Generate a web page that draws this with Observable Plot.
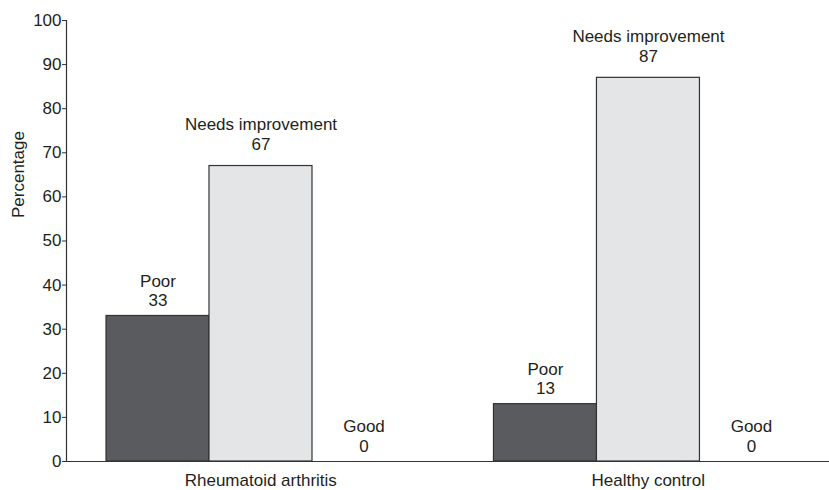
<!DOCTYPE html>
<html>
<head>
<meta charset="utf-8">
<script src="https://cdn.jsdelivr.net/npm/d3@7"></script>
<script src="https://cdn.jsdelivr.net/npm/@observablehq/plot@0.6"></script>
<style>
  html, body { margin: 0; padding: 0; background: #fff; }
  #chart { width: 829px; height: 490px; }
</style>
</head>
<body>
<div id="chart"></div>
<script>
const groups = ["Rheumatoid arthritis", "Healthy control"];
const ratings = ["Poor", "Needs improvement", "Good"];
const rheumatoidValues = [33, 67, 0];
const healthyValues = [13, 87, 0];
const yTicks = [0, 10, 20, 30, 40, 50, 60, 70, 80, 90, 100];
const yLabel = "Percentage";

const seriesByGroup = [rheumatoidValues, healthyValues];
const rows = groups.flatMap((g, gi) =>
  ratings.map((r, ri) => ({group: g, rating: r, value: seriesByGroup[gi][ri]}))
);

const font = "'Liberation Sans', Arial, Helvetica, sans-serif";
const ink = "#231f20";
const width = 829;
const marginLeft = 66;
const fxRange = [105, 803];
const leftReach = marginLeft - fxRange[0];   // extend axis lines out to the plot edge
const rightReach = fxRange[1] - width;

const chart = Plot.plot({
  width,
  height: 490,
  marginTop: 20,
  marginBottom: 29,
  marginLeft,
  marginRight: 0,
  style: {fontFamily: font, fontSize: "17px", color: ink, background: "white"},
  fx: {domain: groups, range: fxRange, paddingInner: 0.1985, paddingOuter: 0, round: false, axis: null},
  x: {domain: ratings, padding: 0, axis: null},
  y: {domain: [0, 100], axis: null},
  color: {domain: ratings, range: ["#5a5b5e", "#e4e5e6", "#ffffff"]},
  marks: [
    Plot.barY(rows, {fx: "group", x: "rating", y: "value", fill: "rating", stroke: "#333333", strokeWidth: 1.2}),
    Plot.text(rows.filter(d => d.rating !== "Needs improvement"), {
      fx: "group", x: "rating", y: "value",
      text: d => `${d.rating}\n${d.value}`,
      lineAnchor: "bottom", dy: -10, lineHeight: 1.12, fontSize: 17, fill: ink
    }),
    Plot.text(rows.filter(d => d.rating === "Needs improvement"), {
      fx: "group", x: "rating", y: "value",
      text: d => `${d.rating}\n${d.value}`,
      lineAnchor: "bottom", dy: -16, lineHeight: 1.18, fontSize: 17, fill: ink
    }),
    Plot.axisFx({anchor: "bottom", tickSize: 0, tickPadding: 12, label: null, fontSize: 17, fill: ink}),
    Plot.axisY({facetAnchor: "left", dx: leftReach, ticks: yTicks, tickSize: 4, tickPadding: 1, label: null, fontSize: 17, fill: ink, stroke: "#333"}),
    Plot.frame({facet: "super", anchor: "left", insetLeft: leftReach, stroke: "#333", strokeWidth: 1.2}),
    Plot.frame({facet: "super", anchor: "bottom", insetLeft: leftReach, insetRight: rightReach, stroke: "#333", strokeWidth: 1.2}),
    Plot.text([yLabel], {facet: "super", frameAnchor: "left", text: d => d, rotate: -90, dx: leftReach - 48, dy: -23, fontSize: 17, fill: ink})
  ]
});
document.getElementById("chart").appendChild(chart);
</script>
</body>
</html>
